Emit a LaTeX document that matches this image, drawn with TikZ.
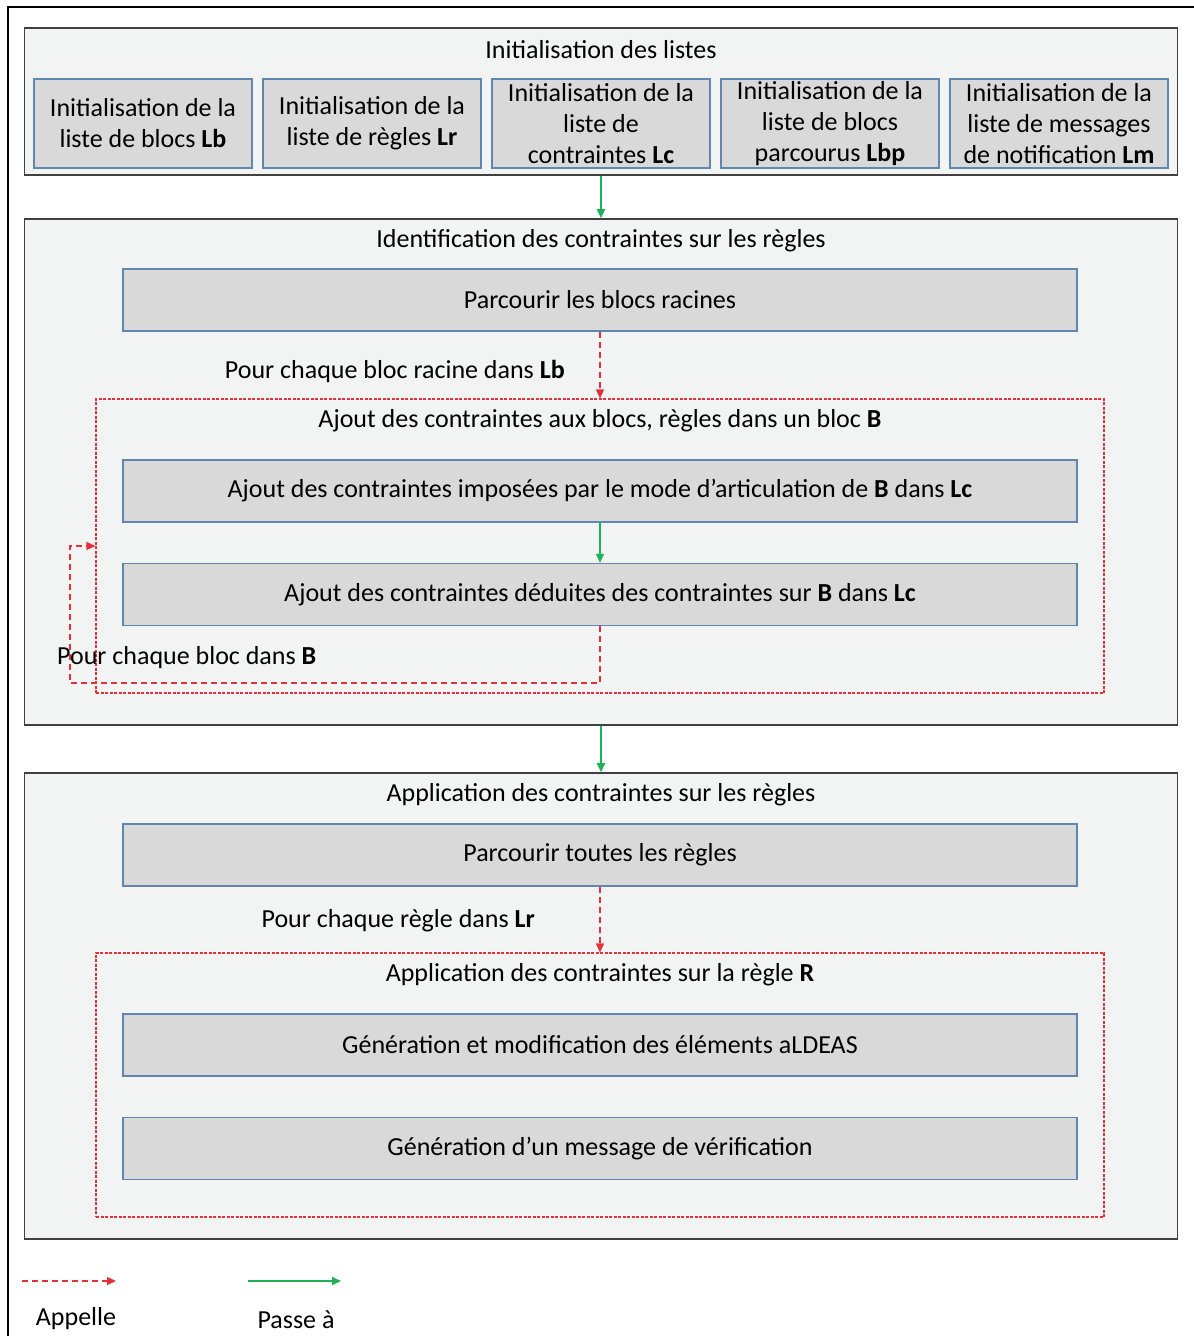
\documentclass[tikz,border=0pt]{standalone}
\usepackage{fontspec}
\setmainfont{Carlito}
\usetikzlibrary{arrows.meta}
\definecolor{secfill}{HTML}{F2F3F3}
\definecolor{boxfill}{HTML}{D9D9D9}
\definecolor{boxline}{HTML}{5F87B0}
\definecolor{callred}{HTML}{E5303C}
\definecolor{passgreen}{HTML}{1DB255}

\begin{document}
\begin{tikzpicture}[x=1pt, y=-1pt,
  every node/.style={font=\fontsize{26}{31}\selectfont, inner sep=0pt},
  section/.style={rectangle, draw=black!75, line width=1.6pt, fill=secfill,
                  minimum width=1153pt},
  block/.style={rectangle, draw=boxline, line width=1.4pt, fill=boxfill,
                minimum width=954pt, minimum height=62pt},
  initbox/.style={rectangle, draw=boxline, line width=1.4pt, fill=boxfill,
                  minimum width=218pt, minimum height=89pt, align=center},
  loopbox/.style={rectangle, draw=callred, line width=1.1pt,
                  dash pattern=on 3pt off 1.5pt, minimum width=1008pt},
  call/.style={-{Triangle[length=9pt,width=8pt]}, color=callred, line width=1.4pt,
               dash pattern=on 6pt off 4pt},
  pass/.style={-{Triangle[length=9pt,width=8pt]}, color=passgreen, line width=1.8pt}
]
  \useasboundingbox (0,0) rectangle (1194,1336);
  \draw[line width=1.5pt] (8,1336) -- (8,7) -- (1194,7);

  % Initialisation des listes
  \node[section, minimum height=147pt] (init) at (601, 101.5) {};
  \node (initT) at (601, 50) {Initialisation des listes};
  \node[initbox] (initLb) at (143, 123.5) {Initialisation de la\\liste de blocs \textbf{Lb}};
  \node[initbox] (initLr) at (372, 123.5) {Initialisation de la\\liste de règles \textbf{Lr}};
  \node[initbox] (initLc) at (601, 123.5) {Initialisation de la\\liste de\\contraintes \textbf{Lc}};
  \node[initbox] (initLbp) at (830, 123.5) {Initialisation de la\\liste de blocs\\parcourus \textbf{Lbp}};
  \node[initbox] (initLm) at (1059, 123.5) {Initialisation de la\\liste de messages\\de notification \textbf{Lm}};

  % Identification des contraintes
  \node[section, minimum height=506pt] (ident) at (601, 472) {};
  \node (identT) at (601, 241) {Identification des contraintes sur les règles};
  \node[block] (racines) at (600, 300) {Parcourir les blocs racines};
  \node[loopbox, minimum height=294pt] (blocB) at (600, 546) {};
  \node (blocBT) at (600, 421) {Ajout des contraintes aux blocs, règles dans un bloc \textbf{B}};
  \node[block] (imposees) at (600, 491) {Ajout des contraintes imposées par le mode d’articulation de \textbf{B} dans \textbf{Lc}};
  \node[block] (deduites) at (600, 594.5) {Ajout des contraintes déduites des contraintes sur \textbf{B} dans \textbf{Lc}};
  \node[anchor=east] (racinesL) at (565, 371) {Pour chaque bloc racine dans \textbf{Lb}};
  \node[anchor=west] (blocL) at (57, 658) {Pour chaque bloc dans \textbf{B}};
  \coordinate (loopA) at (70, 683);

  % Application des contraintes
  \node[section, minimum height=466pt] (appli) at (601, 1006) {};
  \node (appliT) at (601, 795) {Application des contraintes sur les règles};
  \node[block] (regles) at (600, 855) {Parcourir toutes les règles};
  \node[loopbox, minimum height=264pt] (regleR) at (600, 1085) {};
  \node (regleRT) at (600, 975) {Application des contraintes sur la règle \textbf{R}};
  \node[block] (elements) at (600, 1045) {Génération et modification des éléments aLDEAS};
  \node[block] (message) at (600, 1148.5) {Génération d’un message de vérification};
  \node[anchor=east] (reglesL) at (535, 921) {Pour chaque règle dans \textbf{Lr}};

  % Connections
  \draw[pass] (init.south) -- (ident.north);
  \draw[pass] (ident.south) -- (appli.north);
  \draw[pass] (imposees.south) -- (deduites.north);
  \draw[call] (racines.south) -- (blocB.north);
  \draw[call] (deduites.south) |- (loopA) |- (blocB.west);
  \draw[call] (regles.south) -- (regleR.north);

  % Legend
  \coordinate (callA) at (22, 1281);
  \coordinate (callB) at (116, 1281);
  \coordinate (passA) at (248, 1281);
  \coordinate (passB) at (341, 1281);
  \draw[call] (callA) -- (callB);
  \draw[pass] (passA) -- (passB);
  \node (callT) at (76, 1319) {Appelle};
  \node (passT) at (296, 1320) {Passe à};
\end{tikzpicture}
\end{document}
